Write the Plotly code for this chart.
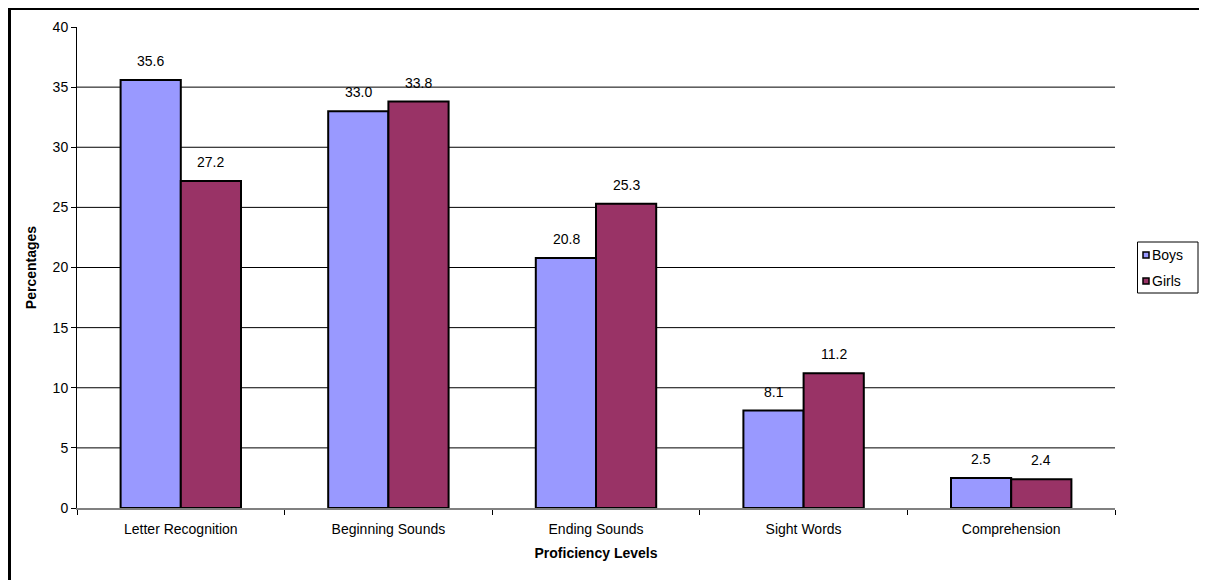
import plotly.graph_objects as go

categories = ["Letter Recognition", "Beginning Sounds", "Ending Sounds", "Sight Words", "Comprehension"]
series_names = ["Boys", "Girls"]
boys = [35.6, 33.0, 20.8, 8.1, 2.5]
girls = [27.2, 33.8, 25.3, 11.2, 2.4]
colors = ["#9999FF", "#993366"]
y_ticks = [0, 5, 10, 15, 20, 25, 30, 35, 40]

# page has an 8px body margin; figure coordinates are page minus 8
W, H = 1199, 572
L, R, T, B = 69, 1107, 19, 500
pw, ph = R - L, B - T
FONT = "Liberation Sans, Arial"


def px(x):
    return (x - L) / pw


def py(y):
    return (B - y) / ph


fig = go.Figure()
for name, vals, col in zip(series_names, (boys, girls), colors):
    fig.add_trace(go.Bar(name=name, x=categories, y=vals, showlegend=False,
                         marker=dict(color=col, line=dict(color="black", width=2))))

annotations = []
for vals, xs in ((boys, -30), (girls, 30)):
    for c, v in zip(categories, vals):
        annotations.append(dict(x=c, y=v, xref="x", yref="y", text=f"{v:.1f}",
                                showarrow=False, xshift=xs, yshift=19,
                                font=dict(family=FONT, size=14, color="black")))

shapes = []
for t in y_ticks[1:-1]:
    shapes.append(dict(type="line", xref="paper", yref="y", x0=0, x1=1, y0=t, y1=t,
                       line=dict(color="black", width=1), layer="below"))
# chart frame (left and top edges; right/bottom lie outside the picture)
shapes.append(dict(type="line", xref="paper", yref="paper",
                   x0=px(1.5), x1=px(1.5), y0=py(0), y1=py(700),
                   line=dict(color="black", width=3)))
shapes.append(dict(type="line", xref="paper", yref="paper",
                   x0=px(0), x1=px(1300), y0=py(0.5), y1=py(0.5),
                   line=dict(color="black", width=3)))
# legend box
shapes.append(dict(type="rect", xref="paper", yref="paper",
                   x0=px(1129.5), x1=px(1190), y0=py(285), y1=py(234),
                   line=dict(color="black", width=1), fillcolor="white"))
for i, (name, col) in enumerate(zip(series_names, colors)):
    yc = 247 + 26 * i
    shapes.append(dict(type="rect", xref="paper", yref="paper",
                       x0=px(1135), x1=px(1141), y0=py(yc + 3), y1=py(yc - 3),
                       line=dict(color="black", width=1.5), fillcolor=col))
    annotations.append(dict(x=px(1141.5), y=py(yc), xref="paper", yref="paper",
                            xanchor="left", yanchor="middle", showarrow=False, text=name,
                            font=dict(family=FONT, size=14, color="black")))

fig.update_layout(
    width=W, height=H,
    margin=dict(l=L, r=W - R, t=T, b=H - B),
    paper_bgcolor="white", plot_bgcolor="white",
    barmode="group", bargap=0.42, bargroupgap=0,
    showlegend=False,
    font=dict(family=FONT, size=14, color="black"),
    annotations=annotations, shapes=shapes,
    xaxis=dict(showgrid=False, showline=True, linecolor="#808080", linewidth=2,
               ticks="outside", tickson="boundaries", ticklen=5, tickcolor="black",
               ticklabelstandoff=7,
               title=dict(text="<b>Proficiency Levels</b>", standoff=12,
                          font=dict(size=14))),
    yaxis=dict(range=[0, 40], tickvals=y_ticks, showgrid=False, zeroline=False,
               showline=True, linecolor="black", linewidth=1,
               ticks="outside", ticklen=5, tickcolor="black",
               title=dict(text="<b>Percentages</b>", standoff=12, font=dict(size=14))),
)

fig.write_html("out.html")
